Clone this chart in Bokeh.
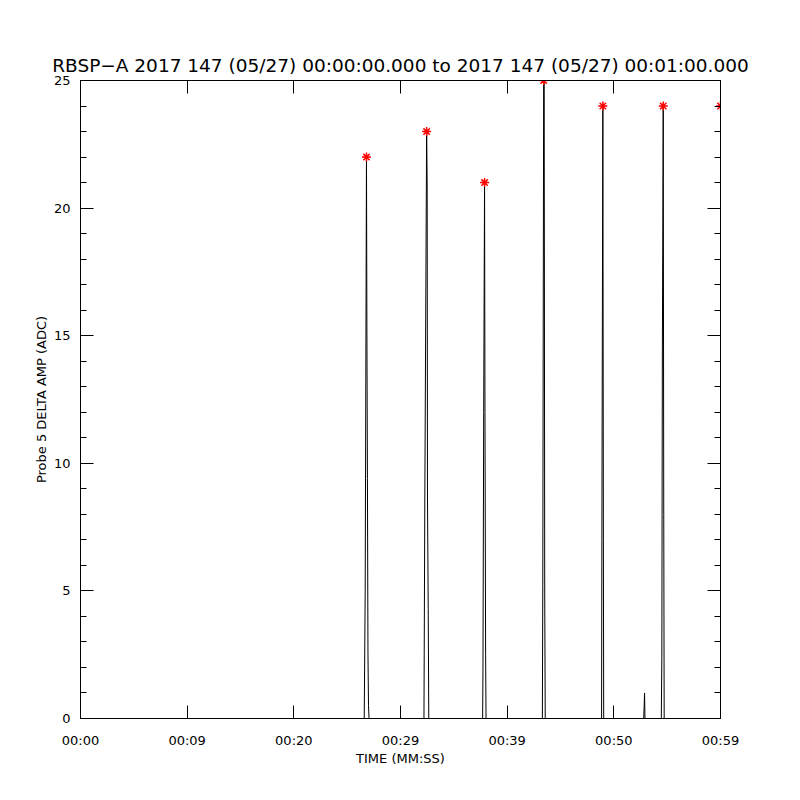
from bokeh.plotting import figure
from bokeh.models import LinearAxis, FixedTicker, Range1d, ColumnDataSource
from bokeh.embed import file_html
from bokeh.resources import INLINE

# ---- data (seconds after 00:00:00, amplitude in ADC) ----
times = [0.0, 26.60, 26.69, 26.81, 26.85, 26.90, 26.95, 27.00, 27.05,
         32.20, 32.28, 32.45, 32.50, 32.53, 32.60, 32.65,
         37.70, 37.73, 37.80, 37.88, 37.92, 37.98, 38.02,
         43.30, 43.34, 43.42, 43.47, 43.52, 43.57,
         48.85, 48.88, 48.97, 49.02, 49.05,
         52.80, 52.84, 52.88, 52.92,
         54.45, 54.50, 54.55, 54.63, 54.68, 54.72, 59.9]
amps = [0, 0, 5.0, 22, 15.3, 9.4, 2.6, 0.5, 0,
        0, 8.6, 23, 20.9, 8.6, 4.3, 0,
        0, 1.9, 12, 21, 12, 2.5, 0,
        0, 5.2, 25, 25, 5.0, 0,
        0, 7.0, 24, 7.0, 0,
        0, 0.45, 1.0, 0,
        0, 2.4, 14.4, 24, 8.0, 0, 0]
peak_times = [26.81, 32.45, 37.88, 43.42, 48.97, 54.63, 60.0]
peak_amps = [22, 23, 21, 25, 24, 24, 24]

x_ticks = [0, 10, 20, 30, 40, 50, 60]
x_tick_labels = ["00:00", "00:09", "00:20", "00:29", "00:39", "00:50", "00:59"]
y_major = [0, 5, 10, 15, 20, 25]
y_minor = list(range(0, 26))

title_text = "RBSP\u2212A 2017 147 (05/27) 00:00:00.000 to 2017 147 (05/27) 00:01:00.000"
FONT = "DejaVu Sans"

p = figure(width=800, height=800, output_backend="svg", toolbar_location=None,
           x_range=Range1d(0, 60), y_range=Range1d(0, 25),
           x_axis_type=None, y_axis_type=None,
           min_border_left=80, min_border_right=80, min_border_top=80, min_border_bottom=82)
p.grid.visible = False
p.outline_line_color = "black"
p.outline_line_width = 1
p.background_fill_color = "white"
p.border_fill_color = "white"

p.title.text = title_text
p.title.text_font = FONT
p.title.text_font_size = "18.5px"
p.title.text_font_style = "normal"
p.title.align = "center"
p.title.text_color = "black"


def style_axis(ax, labels=True):
    ax.axis_line_color = "black"
    ax.major_tick_line_color = "black"
    ax.minor_tick_line_color = "black"
    ax.major_tick_in = 13
    ax.major_tick_out = 0
    ax.minor_tick_in = 6
    ax.minor_tick_out = 0
    ax.major_label_text_font = FONT
    ax.major_label_text_font_size = "13px"
    ax.major_label_text_color = "black" if labels else None
    ax.axis_label_text_font = FONT
    ax.axis_label_text_font_size = "13px"
    ax.axis_label_text_font_style = "normal"
    ax.axis_label_text_color = "black"


xt = FixedTicker(ticks=x_ticks, minor_ticks=[])
yt = FixedTicker(ticks=y_major, minor_ticks=y_minor)

xb = LinearAxis(ticker=xt, axis_label="TIME (MM:SS)")
xb.major_label_overrides = {t: l for t, l in zip(x_ticks, x_tick_labels)}
style_axis(xb)
xb.major_label_standoff = 14
xb.axis_label_standoff = 0
p.add_layout(xb, "below")

xtop = LinearAxis(ticker=xt)
style_axis(xtop, labels=False)
xtop.major_label_standoff = 0
p.add_layout(xtop, "above")

yl = LinearAxis(ticker=yt, axis_label="Probe 5 DELTA AMP (ADC)")
style_axis(yl)
yl.major_label_standoff = 10
yl.axis_label_standoff = 2
p.add_layout(yl, "left")

yr = LinearAxis(ticker=yt)
style_axis(yr, labels=False)
yr.major_label_standoff = 0
p.add_layout(yr, "right")

src = ColumnDataSource(dict(t=times, a=amps))
p.line("t", "a", source=src, line_color="black", line_width=1)
psrc = ColumnDataSource(dict(t=peak_times, a=peak_amps))
p.scatter("t", "a", source=psrc, marker="asterisk", size=9, line_color="red", line_width=1.5)

open("out.html", "w").write(file_html(p, INLINE))
